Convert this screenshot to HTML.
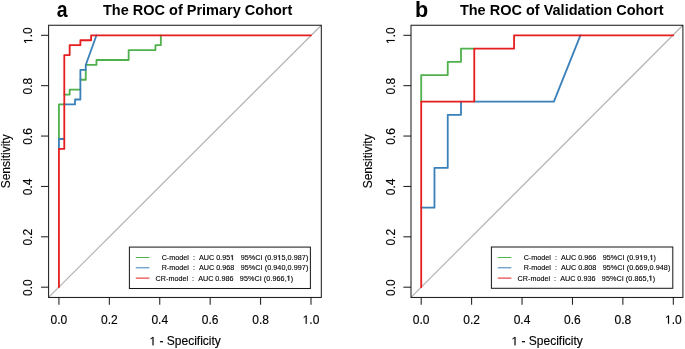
<!DOCTYPE html>
<html><head><meta charset="utf-8"><style>
html,body{margin:0;padding:0;background:#fff;overflow:hidden;}
svg{display:block;}
text{font-family:"Liberation Sans",sans-serif;fill:#000;}
.t{font-size:12px;stroke:#000;stroke-width:0.15px;}
.ot{fill:#000;stroke:#000;stroke-width:25.6px;}
.olg{fill:#000;stroke:#000;stroke-width:91.0px;}
.ti{font-size:14.5px;font-weight:bold;stroke:#000;stroke-width:0.0px;}
.le{font-size:21.6px;font-weight:bold;}
.lg{font-size:7.2px;stroke:#000;stroke-width:0.12px;letter-spacing:0.015px;}
</style></head><body>
<svg width="685" height="349" viewBox="0 0 685 349">
<defs>
<filter id="bl" x="0" y="0" width="685" height="349" filterUnits="userSpaceOnUse" color-interpolation-filters="sRGB"><feConvolveMatrix order="3" kernelMatrix="0.00027 0.01580 0.00027 0.01580 0.93575 0.01580 0.00027 0.01580 0.00027" edgeMode="duplicate" preserveAlpha="true"/></filter>
<filter id="tb" x="0" y="0" width="685" height="349" filterUnits="userSpaceOnUse" color-interpolation-filters="sRGB"><feConvolveMatrix order="3" kernelMatrix="0.00000 0.00000 0.00000 0.00000 1.00000 0.00000 0.00000 0.00000 0.00000" edgeMode="duplicate" preserveAlpha="true"/></filter>
</defs>
<rect width="685" height="349" fill="#fff"/>
<g filter="url(#bl)"><rect width="685" height="349" fill="#fff"/>
<line x1="48.6" y1="297.45" x2="321.3" y2="25.25" stroke="#B0B0B0" stroke-width="1.15"/>
<path d="M58.93,139.02 L58.93,104.45 L64.29,104.45 M64.29,94.57 L69.66,94.57 L69.66,89.63 L80.38,89.63 M80.38,79.75 L85.75,79.75 L85.75,69.87 M85.75,64.94 L96.47,64.94 L96.47,60.00 L128.65,60.00 L128.65,50.12 L155.47,50.12 L155.47,45.18 L160.83,45.18 L160.83,35.30" fill="none" stroke="#4DAF4A" stroke-width="1.8" stroke-linecap="round" stroke-linejoin="round"/>
<path d="M58.93,148.90 L58.93,139.02 L64.29,139.02 M64.29,104.45 L75.02,104.45 L75.02,99.51 L80.38,99.51 L80.38,69.87 L85.75,69.87 L85.75,64.94 L96.47,35.30" fill="none" stroke="#377EB8" stroke-width="1.8" stroke-linecap="round" stroke-linejoin="round"/>
<path d="M58.93,287.20 L58.93,148.90 L64.29,148.90 L64.29,55.06 L69.66,55.06 L69.66,45.18 L80.38,45.18 L80.38,40.24 L91.11,40.24 L91.11,35.30 L311.00,35.30" fill="none" stroke="#E41A1C" stroke-width="1.8" stroke-linecap="round" stroke-linejoin="round"/>
<rect x="48.6" y="25.25" width="272.70" height="272.20" fill="none" stroke="#111111" stroke-width="1.0"/>
<line x1="58.93" y1="297.45" x2="58.93" y2="304.75" stroke="#111111" stroke-width="1.0"/>
<line x1="41.00" y1="287.20" x2="48.6" y2="287.20" stroke="#111111" stroke-width="1.0"/>
<line x1="109.34" y1="297.45" x2="109.34" y2="304.75" stroke="#111111" stroke-width="1.0"/>
<line x1="41.00" y1="236.82" x2="48.6" y2="236.82" stroke="#111111" stroke-width="1.0"/>
<line x1="159.76" y1="297.45" x2="159.76" y2="304.75" stroke="#111111" stroke-width="1.0"/>
<line x1="41.00" y1="186.44" x2="48.6" y2="186.44" stroke="#111111" stroke-width="1.0"/>
<line x1="210.17" y1="297.45" x2="210.17" y2="304.75" stroke="#111111" stroke-width="1.0"/>
<line x1="41.00" y1="136.06" x2="48.6" y2="136.06" stroke="#111111" stroke-width="1.0"/>
<line x1="260.59" y1="297.45" x2="260.59" y2="304.75" stroke="#111111" stroke-width="1.0"/>
<line x1="41.00" y1="85.68" x2="48.6" y2="85.68" stroke="#111111" stroke-width="1.0"/>
<line x1="311.00" y1="297.45" x2="311.00" y2="304.75" stroke="#111111" stroke-width="1.0"/>
<line x1="41.00" y1="35.30" x2="48.6" y2="35.30" stroke="#111111" stroke-width="1.0"/>
<rect x="129.4" y="247.1" width="181.00" height="41.40" fill="#fff" stroke="#111111" stroke-width="1.0"/>
<line x1="135.80" y1="257.50" x2="149.40" y2="257.50" stroke="#4DAF4A" stroke-width="1.0"/>
<line x1="135.80" y1="267.80" x2="149.40" y2="267.80" stroke="#377EB8" stroke-width="1.0"/>
<line x1="135.80" y1="278.10" x2="149.40" y2="278.10" stroke="#E41A1C" stroke-width="1.0"/>
<line x1="411.0" y1="297.45" x2="682.9" y2="25.25" stroke="#B0B0B0" stroke-width="1.15"/>
<path d="M421.20,101.59 L421.20,75.07 L447.74,75.07 L447.74,61.82 L461.01,61.82 L461.01,48.56 L474.27,48.56" fill="none" stroke="#4DAF4A" stroke-width="1.8" stroke-linecap="round" stroke-linejoin="round"/>
<path d="M421.20,207.65 L434.47,207.65 L434.47,167.88 L447.74,167.88 L447.74,114.85 L461.01,114.85 L461.01,101.59 M474.27,101.59 L553.88,101.59 L580.42,35.30" fill="none" stroke="#377EB8" stroke-width="1.8" stroke-linecap="round" stroke-linejoin="round"/>
<path d="M421.20,287.20 L421.20,101.59 L474.27,101.59 L474.27,48.56 L514.08,48.56 L514.08,35.30 L673.30,35.30" fill="none" stroke="#E41A1C" stroke-width="1.8" stroke-linecap="round" stroke-linejoin="round"/>
<rect x="411.0" y="25.25" width="271.90" height="272.20" fill="none" stroke="#111111" stroke-width="1.0"/>
<line x1="421.20" y1="297.45" x2="421.20" y2="304.75" stroke="#111111" stroke-width="1.0"/>
<line x1="403.40" y1="287.20" x2="411.0" y2="287.20" stroke="#111111" stroke-width="1.0"/>
<line x1="471.62" y1="297.45" x2="471.62" y2="304.75" stroke="#111111" stroke-width="1.0"/>
<line x1="403.40" y1="236.82" x2="411.0" y2="236.82" stroke="#111111" stroke-width="1.0"/>
<line x1="522.04" y1="297.45" x2="522.04" y2="304.75" stroke="#111111" stroke-width="1.0"/>
<line x1="403.40" y1="186.44" x2="411.0" y2="186.44" stroke="#111111" stroke-width="1.0"/>
<line x1="572.46" y1="297.45" x2="572.46" y2="304.75" stroke="#111111" stroke-width="1.0"/>
<line x1="403.40" y1="136.06" x2="411.0" y2="136.06" stroke="#111111" stroke-width="1.0"/>
<line x1="622.88" y1="297.45" x2="622.88" y2="304.75" stroke="#111111" stroke-width="1.0"/>
<line x1="403.40" y1="85.68" x2="411.0" y2="85.68" stroke="#111111" stroke-width="1.0"/>
<line x1="673.30" y1="297.45" x2="673.30" y2="304.75" stroke="#111111" stroke-width="1.0"/>
<line x1="403.40" y1="35.30" x2="411.0" y2="35.30" stroke="#111111" stroke-width="1.0"/>
<rect x="491.4" y="247.0" width="181.40" height="41.30" fill="#fff" stroke="#111111" stroke-width="1.0"/>
<line x1="497.80" y1="257.50" x2="511.40" y2="257.50" stroke="#4DAF4A" stroke-width="1.0"/>
<line x1="497.80" y1="267.80" x2="511.40" y2="267.80" stroke="#377EB8" stroke-width="1.0"/>
<line x1="497.80" y1="278.10" x2="511.40" y2="278.10" stroke="#E41A1C" stroke-width="1.0"/>
</g>
<g filter="url(#tb)">
<g transform="translate(58.93,323.80)"><text id="t0" x="0" y="0" text-anchor="middle" class="t">0.0</text></g>
<g transform="translate(32.30,287.60) rotate(-90)"><text id="t1" x="0" y="0" text-anchor="middle" class="t">0.0</text></g>
<g transform="translate(109.34,323.80)"><text id="t2" x="0" y="0" text-anchor="middle" class="t">0.2</text></g>
<g transform="translate(32.30,237.22) rotate(-90)"><text id="t3" x="0" y="0" text-anchor="middle" class="t">0.2</text></g>
<g transform="translate(159.76,323.80)"><text id="t4" x="0" y="0" text-anchor="middle" class="t">0.4</text></g>
<g transform="translate(32.30,186.84) rotate(-90)"><text id="t5" x="0" y="0" text-anchor="middle" class="t">0.4</text></g>
<g transform="translate(210.17,323.80)"><text id="t6" x="0" y="0" text-anchor="middle" class="t">0.6</text></g>
<g transform="translate(32.30,136.46) rotate(-90)"><text id="t7" x="0" y="0" text-anchor="middle" class="t">0.6</text></g>
<g transform="translate(260.59,323.80)"><text id="t8" x="0" y="0" text-anchor="middle" class="t">0.8</text></g>
<g transform="translate(32.30,86.08) rotate(-90)"><text id="t9" x="0" y="0" text-anchor="middle" class="t">0.8</text></g>
<g transform="translate(311.00,323.80)"><path d="M515,0V1237L197,1010V1180L530,1409H696V0Z" transform="translate(-8.344,0.000) scale(0.005859,-0.005859)" class="ot"/><text id="t10" x="0" y="0" text-anchor="middle" class="t">&#8199;.0</text></g>
<g transform="translate(32.30,35.70) rotate(-90)"><path d="M515,0V1237L197,1010V1180L530,1409H696V0Z" transform="translate(-8.344,0.000) scale(0.005859,-0.005859)" class="ot"/><text id="t11" x="0" y="0" text-anchor="middle" class="t">&#8199;.0</text></g>
<g transform="translate(185.15,345.30)"><path d="M515,0V1237L197,1010V1180L530,1409H696V0Z" transform="translate(-35.680,0.000) scale(0.005859,-0.005859)" class="ot"/><text id="t12" x="0" y="0" text-anchor="middle" class="t">&#8199; - Specificity</text></g>
<g transform="translate(9.80,161.35) rotate(-90)"><text id="t13" x="0" y="0" text-anchor="middle" class="t">Sensitivity</text></g>
<text x="103.0" y="15.1" class="ti">The ROC of Primary Cohort</text>
<text x="56.6" y="17" class="le" transform="matrix(0.9,0,0,1,5.9,0)">a</text>
<g transform="translate(155.60,260.10)"><path d="M515,0V1237L197,1010V1180L530,1409H696V0Z" transform="translate(74.641,0.000) scale(0.003516,-0.003516)" class="olg"/><path d="M515,0V1237L197,1010V1180L530,1409H696V0Z" transform="translate(121.744,0.000) scale(0.003516,-0.003516)" class="olg"/><text id="t14" x="0" y="0" text-anchor="start" class="lg">&#160;&#160;&#160;C-model&#160;&#160;:&#160;&#160;AUC 0.95&#8199;&#160;&#160;&#160;<tspan dx="0.4" style="letter-spacing:0.07px">95%CI (0.9&#8199;5,0.987)</tspan></text></g>
<g transform="translate(155.60,270.40)"><text id="t15" x="0" y="0" text-anchor="start" class="lg">&#160;&#160;&#160;R-model&#160;&#160;:&#160;&#160;AUC 0.968&#160;&#160;&#160;<tspan dx="0.4" style="letter-spacing:0.07px">95%CI (0.940,0.997)</tspan></text></g>
<g transform="translate(155.60,280.70)"><path d="M515,0V1237L197,1010V1180L530,1409H696V0Z" transform="translate(131.119,0.000) scale(0.003516,-0.003516)" class="olg"/><text id="t16" x="0" y="0" text-anchor="start" class="lg">CR-model&#160;&#160;:&#160;&#160;AUC 0.986&#160;&#160;&#160;<tspan dx="0.4" style="letter-spacing:0.07px">95%CI (0.966,&#8199;)</tspan></text></g>
<g transform="translate(421.20,323.80)"><text id="t17" x="0" y="0" text-anchor="middle" class="t">0.0</text></g>
<g transform="translate(394.70,287.60) rotate(-90)"><text id="t18" x="0" y="0" text-anchor="middle" class="t">0.0</text></g>
<g transform="translate(471.62,323.80)"><text id="t19" x="0" y="0" text-anchor="middle" class="t">0.2</text></g>
<g transform="translate(394.70,237.22) rotate(-90)"><text id="t20" x="0" y="0" text-anchor="middle" class="t">0.2</text></g>
<g transform="translate(522.04,323.80)"><text id="t21" x="0" y="0" text-anchor="middle" class="t">0.4</text></g>
<g transform="translate(394.70,186.84) rotate(-90)"><text id="t22" x="0" y="0" text-anchor="middle" class="t">0.4</text></g>
<g transform="translate(572.46,323.80)"><text id="t23" x="0" y="0" text-anchor="middle" class="t">0.6</text></g>
<g transform="translate(394.70,136.46) rotate(-90)"><text id="t24" x="0" y="0" text-anchor="middle" class="t">0.6</text></g>
<g transform="translate(622.88,323.80)"><text id="t25" x="0" y="0" text-anchor="middle" class="t">0.8</text></g>
<g transform="translate(394.70,86.08) rotate(-90)"><text id="t26" x="0" y="0" text-anchor="middle" class="t">0.8</text></g>
<g transform="translate(673.30,323.80)"><path d="M515,0V1237L197,1010V1180L530,1409H696V0Z" transform="translate(-8.344,0.000) scale(0.005859,-0.005859)" class="ot"/><text id="t27" x="0" y="0" text-anchor="middle" class="t">&#8199;.0</text></g>
<g transform="translate(394.70,35.70) rotate(-90)"><path d="M515,0V1237L197,1010V1180L530,1409H696V0Z" transform="translate(-8.344,0.000) scale(0.005859,-0.005859)" class="ot"/><text id="t28" x="0" y="0" text-anchor="middle" class="t">&#8199;.0</text></g>
<g transform="translate(547.15,345.30)"><path d="M515,0V1237L197,1010V1180L530,1409H696V0Z" transform="translate(-35.680,0.000) scale(0.005859,-0.005859)" class="ot"/><text id="t29" x="0" y="0" text-anchor="middle" class="t">&#8199; - Specificity</text></g>
<g transform="translate(372.20,161.35) rotate(-90)"><text id="t30" x="0" y="0" text-anchor="middle" class="t">Sensitivity</text></g>
<text x="459.9" y="15.1" class="ti">The ROC of Validation Cohort</text>
<text x="414.9" y="17" class="le">b</text>
<g transform="translate(517.60,260.10)"><path d="M515,0V1237L197,1010V1180L530,1409H696V0Z" transform="translate(121.744,0.000) scale(0.003516,-0.003516)" class="olg"/><path d="M515,0V1237L197,1010V1180L530,1409H696V0Z" transform="translate(131.947,0.000) scale(0.003516,-0.003516)" class="olg"/><text id="t31" x="0" y="0" text-anchor="start" class="lg">&#160;&#160;&#160;C-model&#160;&#160;:&#160;&#160;AUC 0.966&#160;&#160;&#160;<tspan dx="0.4" style="letter-spacing:0.07px">95%CI (0.9&#8199;9,&#8199;)</tspan></text></g>
<g transform="translate(517.60,270.40)"><text id="t32" x="0" y="0" text-anchor="start" class="lg">&#160;&#160;&#160;R-model&#160;&#160;:&#160;&#160;AUC 0.808&#160;&#160;&#160;<tspan dx="0.4" style="letter-spacing:0.07px">95%CI (0.669,0.948)</tspan></text></g>
<g transform="translate(517.60,280.70)"><path d="M515,0V1237L197,1010V1180L530,1409H696V0Z" transform="translate(131.119,0.000) scale(0.003516,-0.003516)" class="olg"/><text id="t33" x="0" y="0" text-anchor="start" class="lg">CR-model&#160;&#160;:&#160;&#160;AUC 0.936&#160;&#160;&#160;<tspan dx="0.4" style="letter-spacing:0.07px">95%CI (0.865,&#8199;)</tspan></text></g>
</g>
</svg>
</body></html>
